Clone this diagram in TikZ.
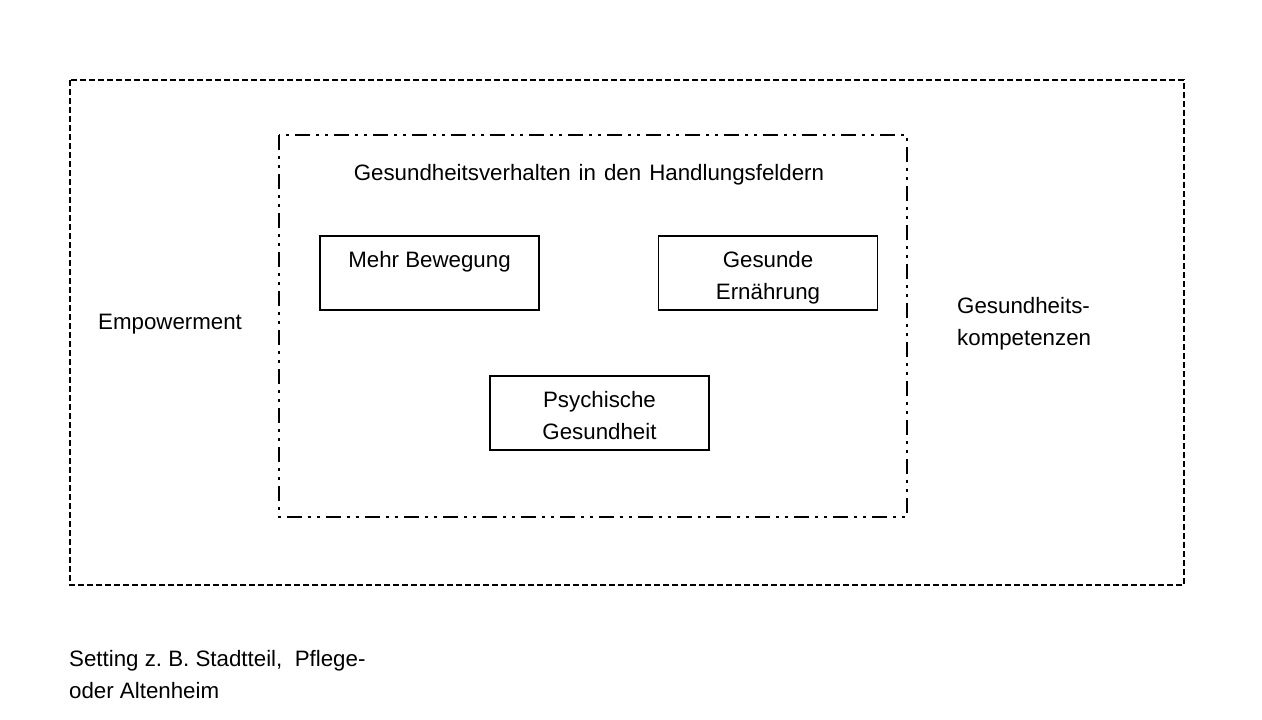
\documentclass[tikz,border=0pt]{standalone}
\usepackage{fontspec}
\setmainfont{Liberation Sans}
\frenchspacing
\tikzset{
	txt/.style={font=\fontsize{22.3}{32}\selectfont, inner sep=0pt},
	feld/.style={txt, draw, line width=1.5pt, minimum width=219pt, text height=63pt, text depth=11pt, align=center},
	setting/.style={line width=1.5pt, dash pattern=on 6pt off 3pt},
	handlung/.style={line width=1.5pt, dash pattern=on 15pt off 6pt on 3pt off 6pt on 3pt off 6pt}
}
\begin{document}
\begin{tikzpicture}[x=1pt,y=-1pt]
		\useasboundingbox (0,0) rectangle (1262,720);
		% Rahmen
		\draw [setting] (70,80) rectangle (1184,585);
		\draw [handlung] (279,135) rectangle (907,517);
		% Handlungsfelder
		\node [txt, anchor=base] (titel) at (589,180) {\spaceskip=8pt Gesundheitsverhalten in den Handlungsfeldern};
		\node [feld] (bewegung) at (429.5,273) {Mehr Bewegung\\\mbox{}};
		\node [feld] (ernaehrung) at (768,273) {Gesunde\\Ernährung};
		\node [feld] (psyche) at (599.5,413) {Psychische\\Gesundheit};
		% aussen
		\node [txt, anchor=base west] (empowerment) at (98,329) {Empowerment};
		\node [txt, anchor=base west, align=left] (kompetenz) at (957,345) {Gesundheits-\\kompetenzen};
		\node [txt, anchor=base west, align=left] (ort) at (69,698) {Setting z. B. Stadtteil,\ \ Pflege-\\oder Altenheim};
\end{tikzpicture}
\end{document}
